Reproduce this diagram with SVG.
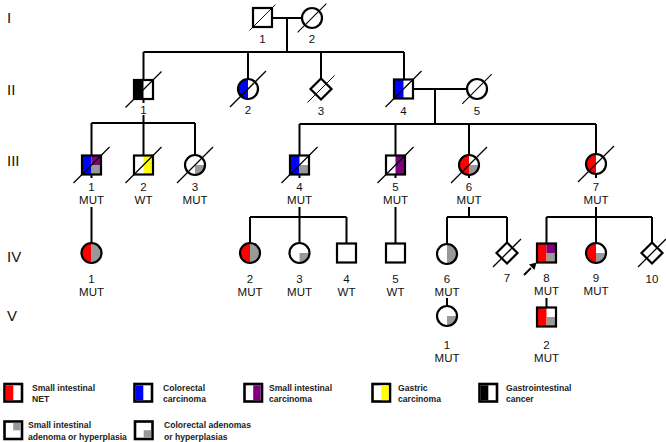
<svg xmlns="http://www.w3.org/2000/svg" width="666" height="442" viewBox="0 0 666 442">
<style>
.ol{fill:none;stroke:#000;stroke-width:2.2}
.sl{stroke:#000;stroke-width:1.3}
.ln{fill:none;stroke:#000;stroke-width:2}
.red{fill:#ff0000}
.blue{fill:#0000ff}
.pur{fill:#7f007f}
.yel{fill:#ffff00}
.gry{fill:#999999}
.blk{fill:#000}
.lb{font-family:"Liberation Sans",Arial,sans-serif;font-size:11.5px;text-anchor:middle;fill:#111}
.gen{font-family:"Liberation Sans",Arial,sans-serif;font-size:15px;fill:#111}
.lg{font-family:"Liberation Sans",Arial,sans-serif;font-size:8.6px;font-weight:bold;fill:#222}
.lgb{fill:#fff;stroke:#000;stroke-width:2.6}
</style>
<defs>
<rect id="sq" x="-9.5" y="-9.5" width="19" height="19"/>
<rect id="sqL" x="-9.5" y="-9.5" width="9.5" height="19"/>
<rect id="sqR" x="0" y="-9.5" width="9.5" height="19"/>
<rect id="sqTR" x="0" y="-9.5" width="9.5" height="9.5"/>
<rect id="sqBR" x="0" y="0" width="9.5" height="9.5"/>
<circle id="c" cx="0" cy="0" r="10"/>
<path id="cL" d="M0,-10 A10,10 0 0 0 0,10 Z"/>
<path id="cR" d="M0,-10 A10,10 0 0 1 0,10 Z"/>
<path id="cBR" d="M0,0 H10 A10,10 0 0 1 0,10 Z"/>
<path id="dm" d="M0,-10.5 L10.5,0 L0,10.5 L-10.5,0 Z"/>
<line id="sl" x1="-18" y1="18" x2="18" y2="-18"/>
<line id="sl2" x1="-14" y1="14" x2="14" y2="-14"/>
</defs>

<g id="generation-labels">
<text class="gen" x="7" y="23">I</text>
<text class="gen" x="7" y="95">II</text>
<text class="gen" x="7" y="166">III</text>
<text class="gen" x="7" y="262">IV</text>
<text class="gen" x="7" y="321">V</text>
</g>

<g id="connectors">
<path class="ln" d="M272,18 H302 M287,18 V52"/>
<path class="ln" d="M143.5,52 H404 M143.5,52 V80 M248,52 V79 M321,52 V78.5 M404,52 V80"/>
<path class="ln" d="M413,89 H467 M435,89 V124"/>
<path class="ln" d="M299.5,124 H596 M299.5,124 V155.5 M395.5,124 V155.5 M469,124 V155 M596,124 V154"/>
<path class="ln" d="M143.5,99 V103 M143.5,115 V123"/>
<path class="ln" d="M91.5,123 H195 M91.5,123 V155.5 M143.5,123 V155.5 M195,123 V155"/>
<path class="ln" d="M91.5,174.5 V178 M91.5,207 V243"/>
<path class="ln" d="M299.5,174.5 V178 M299.5,207 V243 M250,217 H346.5 M250,217 V243 M346.5,217 V243.5"/>
<path class="ln" d="M395.5,174.5 V178 M395.5,207 V243.5"/>
<path class="ln" d="M469,175 V178 M469,207 V217 M447,217 H507 M447,217 V244 M507,217 V242.5"/>
<path class="ln" d="M596,174 V178 M596,207 V243 M546.5,217 H652 M546.5,217 V243.5 M652,217 V242"/>
<path class="ln" d="M447,298 V306"/>
<path class="ln" d="M546.5,298 V307.5"/>
</g>

<g id="I-1" transform="translate(262.5,17.5)"><use href="#sq" class="ol"/><use href="#sl" class="sl" transform="scale(0.72)"/><text class="lb" x="0" y="25.5">1</text></g>
<g id="I-2" transform="translate(312,18)"><use href="#c" class="ol"/><use href="#sl" class="sl" transform="scale(0.8)"/><text class="lb" x="0" y="25">2</text></g>

<g id="II-1" transform="translate(143.5,89.5)"><use href="#sqL" class="blk"/><use href="#sq" class="ol"/><use href="#sl" class="sl"/><text class="lb" x="0" y="24.5">1</text></g>
<g id="II-2" transform="translate(248,89)"><use href="#cL" class="blue"/><use href="#c" class="ol"/><use href="#sl" class="sl"/><text class="lb" x="0" y="25">2</text></g>
<g id="II-3" transform="translate(321,89)"><use href="#dm" class="ol"/><use href="#sl" class="sl" transform="scale(0.75)"/><text class="lb" x="0" y="25.5">3</text></g>
<g id="II-4" transform="translate(403.5,89)"><use href="#sqL" class="blue"/><use href="#sq" class="ol"/><use href="#sl" class="sl"/><text class="lb" x="0" y="25.5">4</text></g>
<g id="II-5" transform="translate(477,89)"><use href="#c" class="ol"/><use href="#sl" class="sl" transform="scale(0.82)"/><text class="lb" x="0" y="25.5">5</text></g>

<g id="III-1" transform="translate(91.5,165)"><use href="#sqL" class="blue"/><use href="#sqTR" class="pur"/><use href="#sqBR" class="gry"/><use href="#sq" class="ol"/><use href="#sl" class="sl"/><text class="lb" x="0" y="26">1</text><text class="lb" x="0" y="39">MUT</text></g>
<g id="III-2" transform="translate(143.5,165)"><use href="#sqR" class="yel"/><use href="#sq" class="ol"/><use href="#sl" class="sl"/><text class="lb" x="0" y="26">2</text><text class="lb" x="0" y="39">WT</text></g>
<g id="III-3" transform="translate(195,165)"><use href="#cBR" class="gry"/><use href="#c" class="ol"/><use href="#sl" class="sl"/><text class="lb" x="0" y="26">3</text><text class="lb" x="0" y="39">MUT</text></g>
<g id="III-4" transform="translate(299.5,165)"><use href="#sqL" class="blue"/><use href="#sqBR" class="gry"/><use href="#sq" class="ol"/><use href="#sl" class="sl"/><text class="lb" x="0" y="26">4</text><text class="lb" x="0" y="39">MUT</text></g>
<g id="III-5" transform="translate(395.5,165)"><use href="#sqR" class="pur"/><use href="#sq" class="ol"/><use href="#sl" class="sl"/><text class="lb" x="0" y="26">5</text><text class="lb" x="0" y="39">MUT</text></g>
<g id="III-6" transform="translate(469,165)"><use href="#cL" class="red"/><use href="#cBR" class="gry"/><use href="#c" class="ol"/><use href="#sl" class="sl"/><text class="lb" x="0" y="26">6</text><text class="lb" x="0" y="39">MUT</text></g>
<g id="III-7" transform="translate(596,164)"><use href="#cL" class="red"/><use href="#c" class="ol"/><use href="#sl" class="sl"/><text class="lb" x="0" y="27">7</text><text class="lb" x="0" y="40">MUT</text></g>

<g id="IV-1" transform="translate(91.5,253)"><use href="#cL" class="red"/><use href="#cR" class="gry"/><use href="#c" class="ol"/><text class="lb" x="0" y="29.5">1</text><text class="lb" x="0" y="42.5">MUT</text></g>
<g id="IV-2" transform="translate(250,253)"><use href="#cL" class="red"/><use href="#cR" class="gry"/><use href="#c" class="ol"/><text class="lb" x="0" y="29.5">2</text><text class="lb" x="0" y="42.5">MUT</text></g>
<g id="IV-3" transform="translate(299.5,253)"><use href="#cBR" class="gry"/><use href="#c" class="ol"/><text class="lb" x="0" y="29.5">3</text><text class="lb" x="0" y="42.5">MUT</text></g>
<g id="IV-4" transform="translate(346.5,253)"><use href="#sq" class="ol"/><text class="lb" x="0" y="29.5">4</text><text class="lb" x="0" y="42.5">WT</text></g>
<g id="IV-5" transform="translate(395.5,253)"><use href="#sq" class="ol"/><text class="lb" x="0" y="29.5">5</text><text class="lb" x="0" y="42.5">WT</text></g>
<g id="IV-6" transform="translate(447,254)"><use href="#cR" class="gry"/><use href="#c" class="ol"/><text class="lb" x="0" y="28.5">6</text><text class="lb" x="0" y="41.5">MUT</text></g>
<g id="IV-7" transform="translate(507,253)"><use href="#dm" class="ol"/><use href="#sl2" class="sl"/><text class="lb" x="0" y="28.5">7</text></g>
<g id="IV-8" transform="translate(546.5,253)"><use href="#sqL" class="red"/><use href="#sqTR" class="pur"/><use href="#sqBR" class="gry"/><use href="#sq" class="ol"/><text class="lb" x="0" y="28.5">8</text><text class="lb" x="0" y="41.5">MUT</text></g>
<g id="IV-9" transform="translate(596,253)"><use href="#cL" class="red"/><use href="#cBR" class="gry"/><use href="#c" class="ol"/><text class="lb" x="0" y="28.5">9</text><text class="lb" x="0" y="41.5">MUT</text></g>
<g id="IV-10" transform="translate(652,253)"><use href="#dm" class="ol"/><use href="#sl2" class="sl"/><text class="lb" x="0" y="29.5">10</text></g>

<g id="proband-arrow">
<line x1="524" y1="275" x2="531" y2="268" stroke="#000" stroke-width="2"/>
<polygon points="536.5,262.5 534.5,270 529,264.5" fill="#000"/>
</g>

<g id="V-1" transform="translate(447,316)"><use href="#cBR" class="gry"/><use href="#c" class="ol"/><text class="lb" x="0" y="33">1</text><text class="lb" x="0" y="45.5">MUT</text></g>
<g id="V-2" transform="translate(546.5,317)"><use href="#sqL" class="red"/><use href="#sqBR" class="gry"/><use href="#sq" class="ol"/><text class="lb" x="0" y="32">2</text><text class="lb" x="0" y="44.5">MUT</text></g>

<g id="legend">
<g id="lg-net"><rect class="lgb" x="4.5" y="384" width="17.5" height="17.5"/><rect class="red" x="5.8" y="385.3" width="7.5" height="14.9"/><text class="lg" x="32" y="391">Small intestinal</text><text class="lg" x="32" y="402">NET</text></g>
<g id="lg-crc"><rect class="lgb" x="134.5" y="384" width="17.5" height="17.5"/><rect class="blue" x="135.8" y="385.3" width="7.5" height="14.9"/><text class="lg" x="163" y="391">Colorectal</text><text class="lg" x="163" y="402">carcinoma</text></g>
<g id="lg-sic"><rect class="lgb" x="244.5" y="384" width="17.5" height="17.5"/><rect class="pur" x="253.2" y="385.3" width="7.5" height="14.9"/><text class="lg" x="269" y="391">Small intestinal</text><text class="lg" x="269" y="402">carcinoma</text></g>
<g id="lg-gc"><rect class="lgb" x="372.5" y="384" width="17.5" height="17.5"/><rect class="yel" x="381.2" y="385.3" width="7.5" height="14.9"/><text class="lg" x="398" y="391">Gastric</text><text class="lg" x="398" y="402">carcinoma</text></g>
<g id="lg-gic"><rect class="lgb" x="479.5" y="384" width="17.5" height="17.5"/><rect class="blk" x="480.8" y="385.3" width="7.5" height="14.9"/><text class="lg" x="506" y="391">Gastrointestinal</text><text class="lg" x="506" y="402">cancer</text></g>
<g id="lg-sia"><rect class="lgb" x="4.5" y="421.5" width="17.5" height="17.5"/><rect class="gry" x="13.2" y="422.8" width="7.5" height="7.5"/><text class="lg" x="28" y="428">Small intestinal</text><text class="lg" x="28" y="440">adenoma or hyperplasia</text></g>
<g id="lg-cra"><rect class="lgb" x="135" y="421.5" width="17.5" height="17.5"/><rect class="gry" x="143.7" y="430.2" width="7.5" height="7.5"/><text class="lg" x="164" y="428">Colorectal adenomas</text><text class="lg" x="164" y="440">or hyperplasias</text></g>
</g>
</svg>
